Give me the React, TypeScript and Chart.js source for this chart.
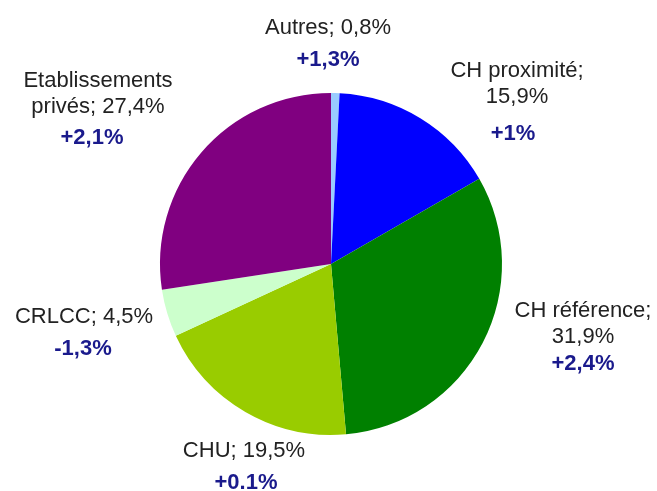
import React, { useEffect, useRef } from "react";
import { Chart, registerables } from "chart.js";

Chart.register(...registerables);

const categories = ["Autres", "CH proximité", "CH référence", "CHU", "CRLCC", "Etablissements privés"];
const shares = [0.8, 15.9, 31.9, 19.5, 4.5, 27.4];
const shareLabels = ["0,8%", "15,9%", "31,9%", "19,5%", "4,5%", "27,4%"];
const evolutions = ["+1,3%", "+1%", "+2,4%", "+0.1%", "-1,3%", "+2,1%"];
const colors = ["#99CCFF", "#0000FF", "#008000", "#99CC00", "#CCFFCC", "#800080"];

// label text lines (regular) per category
const labelLines: string[][] = [
  ["Autres; " + shareLabels[0]],
  ["CH proximité;", shareLabels[1]],
  ["CH référence;", shareLabels[2]],
  ["CHU; " + shareLabels[3]],
  ["CRLCC; " + shareLabels[4]],
  ["Etablissements", "privés; " + shareLabels[5]],
];

// layout of labels: [centerX, firstBaseline, boldCenterX, boldBaseline]
const labelLayout: number[][] = [
  [328, 34, 328, 66],
  [517, 77, 513, 140],
  [583, 317, 583, 370],
  [244, 457, 246, 489],
  [84, 323, 83, 355],
  [98, 87, 92, 144],
];

const labelPlugin = {
  id: "pieLabels",
  afterDraw(chart: any) {
    const ctx = chart.ctx;
    ctx.save();
    ctx.textAlign = "center";
    ctx.textBaseline = "alphabetic";
    labelLines.forEach((lines, i) => {
      const [cx, by, bx, bby] = labelLayout[i];
      ctx.font = "22px 'Liberation Sans', Arial, sans-serif";
      ctx.fillStyle = "#222222";
      lines.forEach((t, j) => {
        ctx.fillText(t, cx, by + j * 26);
      });
      ctx.font = "bold 22px 'Liberation Sans', Arial, sans-serif";
      ctx.fillStyle = "#1A1A8C";
      ctx.fillText(evolutions[i], bx, bby);
    });
    ctx.restore();
  },
};

export default function App() {
  const canvasRef = useRef<HTMLCanvasElement | null>(null);

  useEffect(() => {
    if (!canvasRef.current) return;
    const chart = new Chart(canvasRef.current, {
      type: "pie",
      data: {
        labels: categories,
        datasets: [
          {
            data: shares,
            backgroundColor: colors,
            borderWidth: 0,
          },
        ],
      },
      options: {
        animation: false,
        responsive: false,
        maintainAspectRatio: false,
        layout: { padding: { left: 160, right: 155, top: 93, bottom: 56 } },
        plugins: {
          legend: { display: false },
          tooltip: { enabled: false },
        },
      },
      plugins: [labelPlugin],
    });
    return () => chart.destroy();
  }, []);

  return (
    <div style={{ position: "fixed", left: 0, top: 0, width: 657, height: 491, background: "#fff" }}>
      <canvas ref={canvasRef} width={657} height={491} style={{ width: 657, height: 491 }} />
    </div>
  );
}
